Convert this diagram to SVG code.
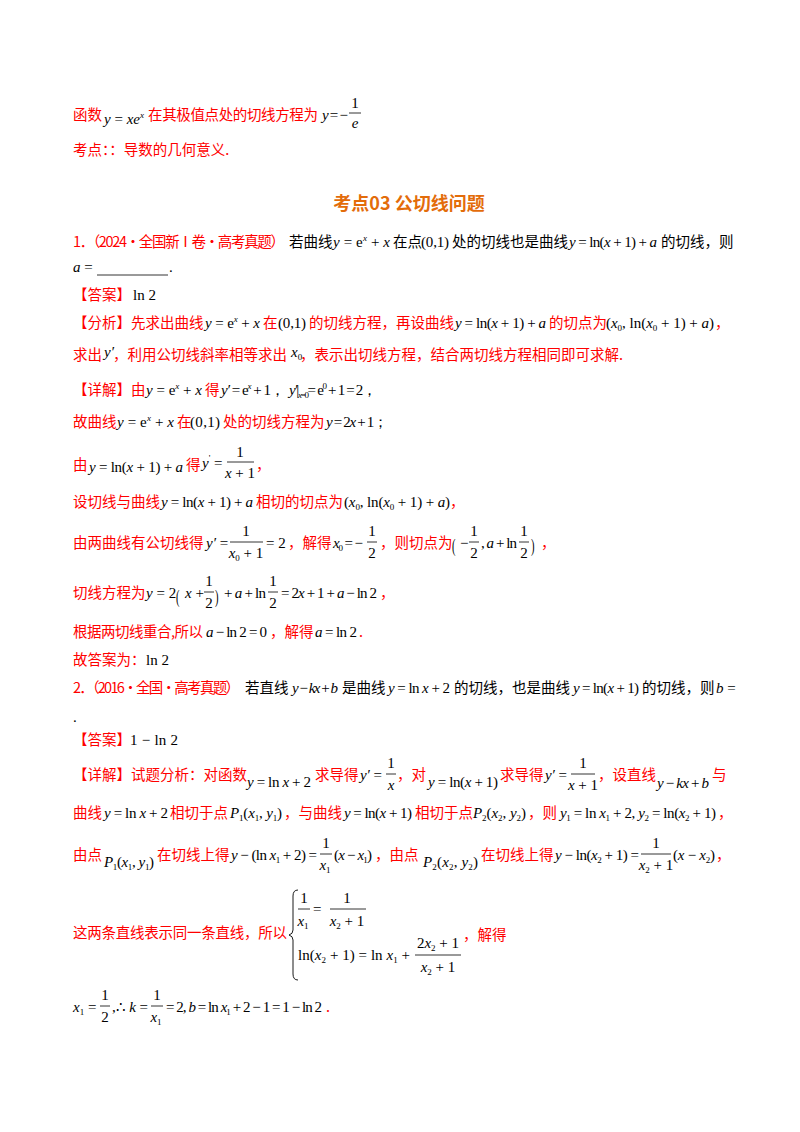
<svg xmlns="http://www.w3.org/2000/svg" width="800" height="1132" viewBox="0 0 800 1132">
<style>
text{font-family:"Liberation Serif","Noto Sans CJK SC",serif;font-size:14.5px}
.r{fill:#ff0000;font-family:"Noto Sans CJK SC",sans-serif}
.k{fill:#000;font-family:"Noto Sans CJK SC",sans-serif}
.m{fill:#000;font-family:"Liberation Serif",serif;font-style:italic;font-size:15px}
.n{font-style:normal}
.s{font-size:9px}
.h{fill:#e36c0a;font-weight:bold;font-size:18px;font-family:"Noto Sans CJK SC",sans-serif}
line{stroke:#000;stroke-width:0.8}
</style>
<rect width="800" height="1132" fill="#fff"/>
<text x="73" y="120" class="r">函数</text>
<text x="104" y="124" class="m">y <tspan class="n">=</tspan> xe<tspan class="s" dy="-6">x</tspan></text>
<text x="148" y="120" class="r" textLength="170">在其极值点处的切线方程为</text>
<text x="322" y="120" class="m" textLength="26">y <tspan class="n">= −</tspan></text>
<text x="355" y="108" class="m n" text-anchor="middle">1</text><line x1="349" y1="113" x2="361" y2="113"/><text x="355" y="128" class="m" text-anchor="middle">e</text>
<text x="73" y="155" class="r">考点：：导数的几何意义.</text>
<text x="409" y="210" class="h" text-anchor="middle">考点03  公切线问题</text>

<text x="73" y="247" class="r" textLength="212">1．（2024·全国新Ⅰ卷·高考真题）</text>
<text x="289" y="247" class="k">若曲线</text>
<text x="333" y="247" class="m" textLength="57">y <tspan class="n">= e</tspan><tspan class="s" dy="-6">x</tspan><tspan dy="6" class="n"> + </tspan>x</text>
<text x="393" y="247" class="k">在点</text>
<text x="421" y="247" class="m n" textLength="28">(0,1)</text>
<text x="452" y="247" class="k">处的切线也是曲线</text>
<text x="569" y="247" class="m" textLength="88">y <tspan class="n">= ln(</tspan>x<tspan class="n"> + 1) + </tspan>a</text>
<text x="661" y="247" class="k">的切线，则</text>
<text x="73" y="272" class="m">a <tspan class="n">=</tspan></text><line x1="97" y1="275" x2="168" y2="275"/><text x="169" y="272" class="m n">.</text>
<text x="73" y="300" class="r">【答案】</text><text x="133" y="300" class="m n">ln 2</text>

<text x="73" y="328" class="r">【分析】先求出曲线</text>
<text x="205" y="328" class="m" textLength="55">y <tspan class="n">= e</tspan><tspan class="s" dy="-6">x</tspan><tspan dy="6" class="n"> + </tspan>x</text>
<text x="263" y="328" class="r">在</text><text x="278" y="328" class="m n" textLength="28">(0,1)</text>
<text x="309" y="328" class="r">的切线方程，再设曲线</text>
<text x="455" y="328" class="m" textLength="91">y <tspan class="n">= ln(</tspan>x<tspan class="n"> + 1) + </tspan>a</text>
<text x="549" y="328" class="r">的切点为</text>
<text x="606" y="328" class="m" textLength="108"><tspan class="n">(</tspan>x<tspan class="s n" dy="3">0</tspan><tspan class="n" dy="-3">, ln(</tspan>x<tspan class="s n" dy="3">0</tspan><tspan class="n" dy="-3"> + 1) + </tspan>a<tspan class="n">)</tspan></text>
<text x="715" y="328" class="r">，</text>
<text x="73" y="360" class="r">求出</text><text x="104" y="357" class="m">y′</text>
<text x="113" y="360" class="r">，利用公切线斜率相等求出</text><text x="291" y="357" class="m">x<tspan class="s n" dy="3">0</tspan></text>
<text x="300" y="360" class="r">，表示出切线方程，结合两切线方程相同即可求解.</text>

<text x="73" y="395" class="r">【详解】由</text>
<text x="146" y="395" class="m" textLength="56">y <tspan class="n">= e</tspan><tspan class="s" dy="-6">x</tspan><tspan dy="6" class="n"> + </tspan>x</text>
<text x="205" y="395" class="r">得</text>
<text x="221" y="395" class="m" textLength="64">y′ <tspan class="n">= e</tspan><tspan class="s" dy="-6">x</tspan><tspan dy="6" class="n"> + 1，</tspan></text>
<text x="289" y="395" class="m" textLength="88">y′<tspan class="n">|</tspan><tspan class="s" dy="3">x<tspan class="n">=0</tspan></tspan><tspan class="n" dy="-3">= e</tspan><tspan class="s n" dy="-6">0</tspan><tspan class="n" dy="6"> + 1 = 2，</tspan></text>

<text x="73" y="427" class="r">故曲线</text>
<text x="117" y="427" class="m" textLength="57">y <tspan class="n">= e</tspan><tspan class="s" dy="-6">x</tspan><tspan dy="6" class="n"> + </tspan>x</text>
<text x="177" y="427" class="r">在</text><text x="190" y="427" class="m n" textLength="30">(0,1)</text>
<text x="223" y="427" class="r">处的切线方程为</text>
<text x="326" y="427" class="m" textLength="62">y <tspan class="n">= 2</tspan>x<tspan class="n"> + 1；</tspan></text>

<text x="73" y="470" class="r">由</text>
<text x="89" y="472" class="m" textLength="94">y <tspan class="n">= ln(</tspan>x<tspan class="n"> + 1) + </tspan>a</text>
<text x="186" y="470" class="r">得</text>
<text x="202" y="468" class="m">y<tspan class="s n" dy="-7">'</tspan><tspan class="n" dy="7"> =</tspan></text>
<text x="240" y="457" class="m n" text-anchor="middle">1</text><line x1="227" y1="462" x2="254" y2="462"/><text x="240" y="478" class="m" text-anchor="middle">x<tspan class="n"> + 1</tspan></text>
<text x="256" y="470" class="r">，</text>

<text x="73" y="507" class="r">设切线与曲线</text>
<text x="161" y="507" class="m" textLength="92">y <tspan class="n">= ln(</tspan>x<tspan class="n"> + 1) + </tspan>a</text>
<text x="256" y="507" class="r">相切的切点为</text>
<text x="344" y="507" class="m" textLength="106"><tspan class="n">(</tspan>x<tspan class="s n" dy="3">0</tspan><tspan class="n" dy="-3">, ln(</tspan>x<tspan class="s n" dy="3">0</tspan><tspan class="n" dy="-3"> + 1) + </tspan>a<tspan class="n">)</tspan></text>
<text x="450" y="507" class="r">，</text>

<text x="73" y="548" class="r">由两曲线有公切线得</text>
<text x="206" y="548" class="m">y′ <tspan class="n">=</tspan></text>
<text x="246" y="536" class="m n" text-anchor="middle">1</text><line x1="230" y1="542" x2="263" y2="542"/><text x="246" y="558" class="m" text-anchor="middle">x<tspan class="s n" dy="3">0</tspan><tspan class="n" dy="-3"> + 1</tspan></text>
<text x="266" y="548" class="m n">= 2</text><text x="288" y="548" class="r">，解得</text>
<text x="333" y="548" class="m" textLength="30">x<tspan class="s n" dy="3">0</tspan><tspan class="n" dy="-3"> = −</tspan></text>
<text x="372" y="536" class="m n" text-anchor="middle">1</text><line x1="367" y1="542" x2="377" y2="542"/><text x="372" y="558" class="m n" text-anchor="middle">2</text>
<text x="380" y="548" class="r">，则切点为</text>
<text x="452" y="552" class="m n" font-size="28" transform="translate(452 552) scale(0.7 1.2) translate(-452 -552)">(</text>
<text x="460" y="548" class="m n">−</text>
<text x="474" y="536" class="m n" text-anchor="middle">1</text><line x1="469" y1="542" x2="479" y2="542"/><text x="474" y="558" class="m n" text-anchor="middle">2</text>
<text x="481" y="548" class="m" textLength="36"><tspan class="n">, </tspan>a<tspan class="n"> + ln</tspan></text>
<text x="524" y="536" class="m n" text-anchor="middle">1</text><line x1="519" y1="542" x2="529" y2="542"/><text x="524" y="558" class="m n" text-anchor="middle">2</text>
<text x="531" y="552" class="m n" font-size="28" transform="translate(531 552) scale(0.7 1.2) translate(-531 -552)">)</text>
<text x="541" y="548" class="r">，</text>

<text x="73" y="598" class="r">切线方程为</text>
<text x="146" y="598" class="m">y <tspan class="n">= 2</tspan></text>
<text x="176" y="603" class="m n" font-size="28" transform="translate(176 603) scale(0.7 1.25) translate(-176 -603)">(</text>
<text x="185" y="598" class="m">x<tspan class="n"> +</tspan></text>
<text x="209" y="586" class="m n" text-anchor="middle">1</text><line x1="204" y1="592" x2="214" y2="592"/><text x="209" y="608" class="m n" text-anchor="middle">2</text>
<text x="215" y="603" class="m n" font-size="28" transform="translate(215 603) scale(0.7 1.25) translate(-215 -603)">)</text>
<text x="224" y="598" class="m" textLength="42"><tspan class="n">+ </tspan>a<tspan class="n"> + ln</tspan></text>
<text x="273" y="586" class="m n" text-anchor="middle">1</text><line x1="268" y1="592" x2="278" y2="592"/><text x="273" y="608" class="m n" text-anchor="middle">2</text>
<text x="281" y="598" class="m" textLength="96"><tspan class="n">= 2</tspan>x<tspan class="n"> + 1 + </tspan>a<tspan class="n"> − ln 2</tspan></text>
<text x="380" y="598" class="r">，</text>

<text x="73" y="637" class="r" textLength="130">根据两切线重合,所以</text>
<text x="206" y="637" class="m" textLength="61">a<tspan class="n"> − ln 2 = 0</tspan></text><text x="270" y="637" class="r">，解得</text>
<text x="315" y="637" class="m" textLength="42">a<tspan class="n"> = ln 2</tspan></text><text x="359" y="637" class="r">.</text>
<text x="73" y="665" class="r">故答案为：</text><text x="146" y="665" class="m n">ln 2</text>

<text x="73" y="693" class="r" textLength="167">2．（2016·全国·高考真题）</text>
<text x="245" y="693" class="k">若直线</text>
<text x="292" y="693" class="m" font-size="12" textLength="46">y <tspan class="n">−</tspan> kx <tspan class="n">+</tspan> b</text>
<text x="342" y="693" class="k">是曲线</text>
<text x="388" y="693" class="m" textLength="62">y <tspan class="n">= ln </tspan>x<tspan class="n"> + 2</tspan></text>
<text x="454" y="693" class="k">的切线，也是曲线</text>
<text x="573" y="693" class="m" textLength="66">y <tspan class="n">= ln(</tspan>x<tspan class="n"> + 1)</tspan></text>
<text x="642" y="693" class="k">的切线，则</text>
<text x="716" y="693" class="m">b<tspan class="n"> =</tspan></text>
<text x="73" y="722" class="m n">.</text>
<text x="73" y="745" class="r">【答案】</text><text x="130" y="745" class="m n" textLength="48">1 − ln 2</text>

<text x="73" y="780" class="r">【详解】试题分析：对函数</text>
<text x="247" y="787" class="m" textLength="64">y <tspan class="n">= ln </tspan>x<tspan class="n"> + 2</tspan></text>
<text x="315" y="780" class="r">求导得</text>
<text x="360" y="780" class="m" textLength="22">y′ <tspan class="n">=</tspan></text>
<text x="391" y="768" class="m n" text-anchor="middle">1</text><line x1="386" y1="774" x2="396" y2="774"/><text x="391" y="790" class="m" text-anchor="middle">x</text>
<text x="397" y="780" class="r">，对</text>
<text x="428" y="787" class="m" textLength="70">y <tspan class="n">= ln(</tspan>x<tspan class="n"> + 1)</tspan></text>
<text x="500" y="780" class="r">求导得</text>
<text x="545" y="780" class="m" textLength="22">y′ <tspan class="n">=</tspan></text>
<text x="583" y="768" class="m n" text-anchor="middle">1</text><line x1="571" y1="774" x2="595" y2="774"/><text x="583" y="790" class="m" text-anchor="middle">x<tspan class="n"> + 1</tspan></text>
<text x="598" y="780" class="r">，设直线</text>
<text x="657" y="788" class="m" font-size="12" textLength="52">y <tspan class="n">−</tspan> kx <tspan class="n">+</tspan> b</text>
<text x="712" y="780" class="r">与</text>

<text x="73" y="818" class="r">曲线</text>
<text x="104" y="818" class="m" textLength="64">y <tspan class="n">= ln </tspan>x<tspan class="n"> + 2</tspan></text>
<text x="170" y="818" class="r">相切于点</text>
<text x="230" y="818" class="m" textLength="52">P<tspan class="s n" dy="3">1</tspan><tspan class="n" dy="-3">(</tspan>x<tspan class="s n" dy="3">1</tspan><tspan class="n" dy="-3">, </tspan>y<tspan class="s n" dy="3">1</tspan><tspan class="n" dy="-3">)</tspan></text>
<text x="284" y="818" class="r">，与曲线</text>
<text x="344" y="818" class="m" textLength="68">y <tspan class="n">= ln(</tspan>x<tspan class="n"> + 1)</tspan></text>
<text x="415" y="818" class="r">相切于点</text>
<text x="473" y="818" class="m" textLength="53">P<tspan class="s n" dy="3">2</tspan><tspan class="n" dy="-3">(</tspan>x<tspan class="s n" dy="3">2</tspan><tspan class="n" dy="-3">, </tspan>y<tspan class="s n" dy="3">2</tspan><tspan class="n" dy="-3">)</tspan></text>
<text x="528" y="818" class="r">，则</text>
<text x="560" y="818" class="m" textLength="156">y<tspan class="s n" dy="3">1</tspan><tspan class="n" dy="-3"> = ln </tspan>x<tspan class="s n" dy="3">1</tspan><tspan class="n" dy="-3"> + 2, </tspan>y<tspan class="s n" dy="3">2</tspan><tspan class="n" dy="-3"> = ln(</tspan>x<tspan class="s n" dy="3">2</tspan><tspan class="n" dy="-3"> + 1)</tspan></text>
<text x="718" y="818" class="r">，</text>

<text x="73" y="860" class="r">由点</text>
<text x="104" y="867" class="m" textLength="50">P<tspan class="s n" dy="3">1</tspan><tspan class="n" dy="-3">(</tspan>x<tspan class="s n" dy="3">1</tspan><tspan class="n" dy="-3">, </tspan>y<tspan class="s n" dy="3">1</tspan><tspan class="n" dy="-3">)</tspan></text>
<text x="157" y="860" class="r">在切线上得</text>
<text x="231" y="860" class="m" textLength="86">y<tspan class="n"> − (ln </tspan>x<tspan class="s n" dy="3">1</tspan><tspan class="n" dy="-3"> + 2) =</tspan></text>
<text x="326" y="848" class="m n" text-anchor="middle">1</text><line x1="320" y1="854" x2="332" y2="854"/><text x="325" y="870" class="m" text-anchor="middle">x<tspan class="s n" dy="3">1</tspan></text>
<text x="334" y="860" class="m" textLength="38"><tspan class="n">(</tspan>x<tspan class="n"> − </tspan>x<tspan class="s n" dy="3">1</tspan><tspan class="n" dy="-3">)</tspan></text>
<text x="375" y="860" class="r">，由点</text>
<text x="423" y="867" class="m" textLength="55">P<tspan class="s n" dy="3">2</tspan><tspan class="n" dy="-3">(</tspan>x<tspan class="s n" dy="3">2</tspan><tspan class="n" dy="-3">, </tspan>y<tspan class="s n" dy="3">2</tspan><tspan class="n" dy="-3">)</tspan></text>
<text x="481" y="860" class="r">在切线上得</text>
<text x="555" y="860" class="m" textLength="84">y<tspan class="n"> − ln(</tspan>x<tspan class="s n" dy="3">2</tspan><tspan class="n" dy="-3"> + 1) =</tspan></text>
<text x="656" y="848" class="m n" text-anchor="middle">1</text><line x1="641" y1="854" x2="671" y2="854"/><text x="656" y="870" class="m" text-anchor="middle">x<tspan class="s n" dy="3">2</tspan><tspan class="n" dy="-3"> + 1</tspan></text>
<text x="673" y="860" class="m" textLength="42"><tspan class="n">(</tspan>x<tspan class="n"> − </tspan>x<tspan class="s n" dy="3">2</tspan><tspan class="n" dy="-3">)</tspan></text>
<text x="716" y="860" class="r">，</text>

<text x="73" y="938" class="r" textLength="214">这两条直线表示同一条直线，所以</text>
<path d="M298 890 Q293 890 293 896 L293 930 Q293 934 289 935 Q293 936 293 940 L293 974 Q293 980 298 980" fill="none" stroke="#000" stroke-width="0.9"/>
<text x="304" y="903" class="m n" text-anchor="middle">1</text><line x1="298" y1="909" x2="310" y2="909"/><text x="303" y="926" class="m" text-anchor="middle">x<tspan class="s n" dy="3">1</tspan></text>
<text x="313" y="914" class="m n">=</text>
<text x="347" y="903" class="m n" text-anchor="middle">1</text><line x1="330" y1="909" x2="366" y2="909"/><text x="347" y="926" class="m" text-anchor="middle">x<tspan class="s n" dy="3">2</tspan><tspan class="n" dy="-3"> + 1</tspan></text>
<text x="298" y="960" class="m" textLength="112"><tspan class="n">ln(</tspan>x<tspan class="s n" dy="3">2</tspan><tspan class="n" dy="-3"> + 1) = ln </tspan>x<tspan class="s n" dy="3">1</tspan><tspan class="n" dy="-3"> +</tspan></text>
<text x="438" y="948" class="m" text-anchor="middle"><tspan class="n">2</tspan>x<tspan class="s n" dy="3">2</tspan><tspan class="n" dy="-3"> + 1</tspan></text><line x1="415" y1="955" x2="461" y2="955"/><text x="438" y="972" class="m" text-anchor="middle">x<tspan class="s n" dy="3">2</tspan><tspan class="n" dy="-3"> + 1</tspan></text>
<text x="463" y="940" class="r">，解得</text>

<text x="73" y="1012" class="m">x<tspan class="s n" dy="3">1</tspan><tspan class="n" dy="-3"> =</tspan></text>
<text x="105" y="1000" class="m n" text-anchor="middle">1</text><line x1="100" y1="1006" x2="110" y2="1006"/><text x="105" y="1022" class="m n" text-anchor="middle">2</text>
<text x="112" y="1012" class="m" textLength="36"><tspan class="n">,∴ </tspan>k<tspan class="n"> =</tspan></text>
<text x="157" y="1000" class="m n" text-anchor="middle">1</text><line x1="151" y1="1006" x2="163" y2="1006"/><text x="156" y="1022" class="m" text-anchor="middle">x<tspan class="s n" dy="3">1</tspan></text>
<text x="166" y="1012" class="m" textLength="156"><tspan class="n">= 2, </tspan>b<tspan class="n"> = ln </tspan>x<tspan class="s n" dy="3">1</tspan><tspan class="n" dy="-3"> + 2 − 1 = 1 − ln 2</tspan></text>
<text x="326" y="1012" class="r">.</text>
</svg>
